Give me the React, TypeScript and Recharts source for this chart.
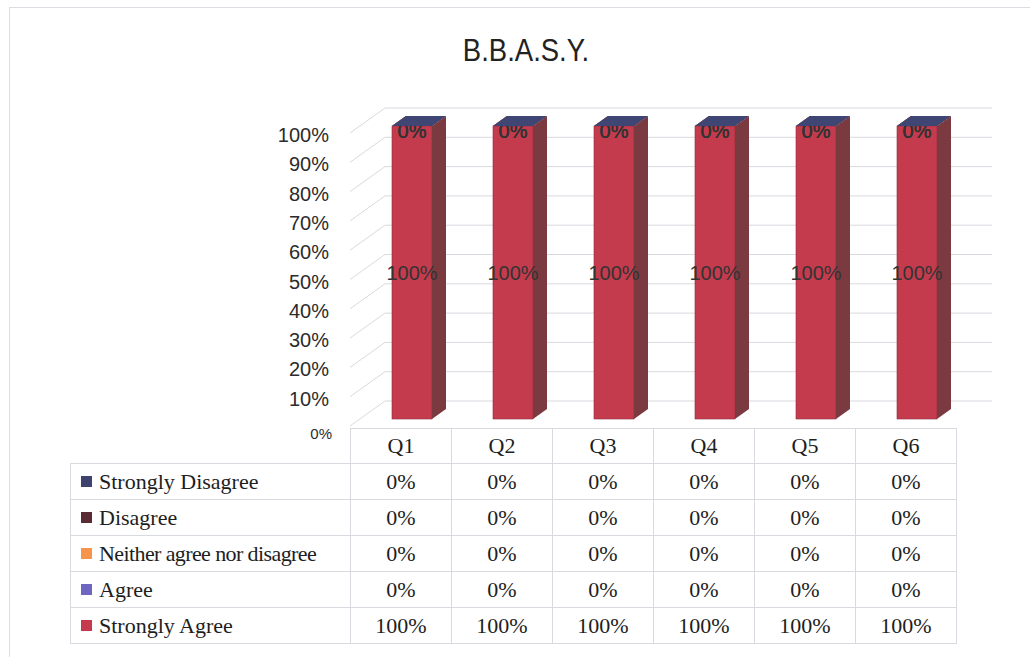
import React from 'react';
import { BarChart, Bar, XAxis, YAxis, CartesianGrid, LabelList } from 'recharts';

const categories = ['Q1', 'Q2', 'Q3', 'Q4', 'Q5', 'Q6'];
const stronglyAgree = [100, 100, 100, 100, 100, 100];
const agree = [0, 0, 0, 0, 0, 0];
const neither = [0, 0, 0, 0, 0, 0];
const disagree = [0, 0, 0, 0, 0, 0];
const stronglyDisagree = [0, 0, 0, 0, 0, 0];
const yTicks = [0, 10, 20, 30, 40, 50, 60, 70, 80, 90, 100];

// stack order: bottom -> top
const series = [
  { key: 'sa', name: 'Strongly Agree', values: stronglyAgree, color: '#c53b4e', side: '#7a3a40', top: '#d8606e' },
  { key: 'ag', name: 'Agree', values: agree, color: '#6e66c0', side: '#4a4488', top: '#8a84d0' },
  { key: 'ne', name: 'Neither agree nor disagree', values: neither, color: '#f7944c', side: '#b86a30', top: '#f9ad74' },
  { key: 'di', name: 'Disagree', values: disagree, color: '#5a2b33', side: '#3c1c22', top: '#6e3a42' },
  { key: 'sd', name: 'Strongly Disagree', values: stronglyDisagree, color: '#3d426f', side: '#2a2e50', top: '#3f4674' },
];

const data = categories.map((q, i) => {
  const row: Record<string, any> = { name: q };
  series.forEach((s) => (row[s.key] = s.values[i]));
  return row;
});

// 3d-ish geometry
const SHIFT_X = 11;
const SHIFT_Y = -7;
const DEPTH_X = 14;
const DEPTH_Y = 10;
const WALL_X = 35;
const WALL_Y = 25;

const PLOT_LEFT = 350;
const COL_W = 101;
const TABLE_LEFT = 70;
const HEAD_TOP = 428;
const HEAD_H = 35;
const ROW_H = 36;
const GRID = '#d9d9e0';
const sans = "Arial, 'Liberation Sans', sans-serif";
const serif = "'Times New Roman', 'Liberation Serif', serif";

const Bar3D = (props: any) => {
  const { x, y, width, height, color, side, top } = props;
  const fx = x + SHIFT_X;
  const fy = y + SHIFT_Y;
  const rx = fx + width;
  return (
    <g>
      {height > 0 && <rect x={fx} y={fy} width={width} height={height} fill={color} stroke="#8e2e3c" strokeWidth={0.6} />}
      {height > 0 && (
        <polygon
          points={`${rx},${fy} ${rx + DEPTH_X},${fy - DEPTH_Y} ${rx + DEPTH_X},${fy + height - DEPTH_Y} ${rx},${fy + height}`}
          fill={side}
        />
      )}
      <polygon
        points={`${fx},${fy} ${fx + DEPTH_X},${fy - DEPTH_Y} ${rx + DEPTH_X},${fy - DEPTH_Y} ${rx},${fy}`}
        fill={top}
      />
    </g>
  );
};

let clipSeq = 0;

// zero labels sit on the cap and are partly hidden behind it, like the original
const BarLabel = (props: any) => {
  const vb = props.viewBox || props;
  const { x, y, width, height } = vb;
  const v = props.value;
  const fy = y + SHIFT_Y;
  const cx = x + width / 2 + SHIFT_X;
  const cy = fy + height / 2 + (v === 0 ? 5 : 0);
  const id = `lbl-clip-${clipSeq++}`;
  return (
    <g>
      {v === 0 && (
        <clipPath id={id}>
          <rect x={cx - 30} y={fy} width={60} height={30} />
        </clipPath>
      )}
      <text
        x={cx}
        y={cy}
        textAnchor="middle"
        dominantBaseline="central"
        fontSize={20}
        fontFamily={sans}
        fill="#333"
        clipPath={v === 0 ? `url(#${id})` : undefined}
      >
        {v}%
      </text>
    </g>
  );
};

const GridLine = (props: any) => {
  const { x1, x2, y1 } = props;
  return (
    <g>
      <line x1={x1} y1={y1} x2={x1 + WALL_X} y2={y1 - WALL_Y} stroke={GRID} strokeWidth={1} />
      <line x1={x1 + WALL_X} y1={y1 - WALL_Y} x2={x2 + WALL_X + 1} y2={y1 - WALL_Y} stroke={GRID} strokeWidth={1} />
    </g>
  );
};

const YTick = (props: any) => {
  const { y, payload } = props;
  const zero = payload.value === 0;
  return (
    <text
      x={zero ? 332 : 329}
      y={zero ? y + 7 : y + 2}
      textAnchor="end"
      dominantBaseline="central"
      fontSize={zero ? 15 : 20}
      fontFamily={sans}
      fill="#2b2b2b"
    >
      {payload.value}%
    </text>
  );
};

const cellStyle = (left: number, top: number, width: number, height: number): React.CSSProperties => ({
  position: 'absolute',
  left,
  top,
  width,
  height,
  boxSizing: 'border-box',
  borderLeft: `1px solid ${GRID}`,
  borderTop: `1px solid ${GRID}`,
  display: 'flex',
  alignItems: 'center',
  justifyContent: 'center',
  fontFamily: serif,
  fontSize: 22,
  color: '#1e1e1e',
  whiteSpace: 'pre',
});

export default function App() {
  const rows = [...series].reverse();
  const tableRight = PLOT_LEFT + COL_W * categories.length;
  const tableBottom = HEAD_TOP + HEAD_H + ROW_H * rows.length;

  return (
    <div style={{ position: 'absolute', left: 0, top: 0, width: 1030, height: 657, background: '#fff', overflow: 'hidden' }}>
      {/* frame */}
      <div style={{ position: 'absolute', left: 9, top: 7, width: 1030, height: 660, borderLeft: '1px solid #dcdce2', borderTop: '1px solid #dcdce2' }} />

      <svg width={1030} height={90} style={{ position: 'absolute', left: 0, top: 0 }}>
        <text transform="translate(526,61) scale(0.86,1)" textAnchor="middle" fontSize={32} fontFamily={sans} fill="#222">
          B.B.A.S.Y.
        </text>
      </svg>

      <div style={{ position: 'absolute', left: 0, top: 0 }}>
        <BarChart
          width={1030}
          height={440}
          data={data}
          margin={{ top: 133, right: 74, bottom: 14, left: 0 }}
          barSize={40}
        >
          <CartesianGrid vertical={false} horizontal={(p: any) => <GridLine {...p} />} />
          <XAxis dataKey="name" hide />
          <YAxis width={350} domain={[0, 100]} ticks={yTicks} axisLine={false} tickLine={false} tick={<YTick />} />
          {series.map((s, idx) => (
            <Bar
              key={s.key}
              dataKey={s.key}
              name={s.name}
              stackId="a"
              fill={s.color}
              isAnimationActive={false}
              shape={(p: any) => <Bar3D {...p} color={s.color} side={s.side} top={s.top} />}
            >
              {idx < series.length - 1 && <LabelList dataKey={s.key} content={<BarLabel />} />}
            </Bar>
          ))}
        </BarChart>
      </div>

      {/* data table */}
      {categories.map((q, i) => (
        <div key={q} style={cellStyle(PLOT_LEFT + COL_W * i, HEAD_TOP, COL_W, HEAD_H)}>
          {q}
        </div>
      ))}
      {rows.map((s, r) => {
        const top = HEAD_TOP + HEAD_H + ROW_H * r;
        return (
          <React.Fragment key={s.key}>
            <div style={{ ...cellStyle(TABLE_LEFT, top, PLOT_LEFT - TABLE_LEFT, ROW_H), justifyContent: 'flex-start', paddingLeft: 10 }}>
              <span style={{ display: 'inline-block', width: 11, height: 11, background: s.color, marginRight: 7 }} />
              <span style={{ letterSpacing: s.name.length > 20 ? -0.6 : 0 }}>{s.name}</span>
            </div>
            {s.values.map((v, i) => (
              <div key={i} style={cellStyle(PLOT_LEFT + COL_W * i, top, COL_W, ROW_H)}>
                {v}%
              </div>
            ))}
          </React.Fragment>
        );
      })}
      <div style={{ position: 'absolute', left: tableRight, top: HEAD_TOP, width: 1, height: tableBottom - HEAD_TOP, background: GRID }} />
      <div style={{ position: 'absolute', left: TABLE_LEFT, top: tableBottom, width: tableRight - TABLE_LEFT + 1, height: 1, background: GRID }} />
    </div>
  );
}
